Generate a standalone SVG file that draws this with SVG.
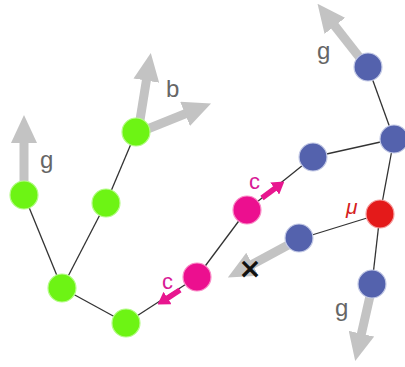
<svg xmlns="http://www.w3.org/2000/svg" width="405" height="367" viewBox="0 0 405 367">
  <defs>
    <marker id="headGray" viewBox="0 0 28 26" markerWidth="28" markerHeight="26" markerUnits="userSpaceOnUse" refX="1" refY="13" orient="auto">
      <path d="M0,0 L28,13 L0,26 z" fill="#c3c3c3"/>
    </marker>
    <marker id="headPink" viewBox="0 0 12 15" markerWidth="12" markerHeight="15" markerUnits="userSpaceOnUse" refX="1" refY="7.5" orient="auto">
      <path d="M0,0 L12,7.5 L0,15 z" fill="#e8168f"/>
    </marker>
    <style>
      .bond { stroke: #333; stroke-width: 1.3; fill: none; }
      .vec { stroke: #c3c3c3; stroke-width: 9; fill: none; marker-end: url(#headGray); }
      .cvec { stroke: #e8168f; stroke-width: 5.5; fill: none; marker-end: url(#headPink); }
      .green { fill: #6df414; stroke: #b6fb8a; stroke-width: 1.2; }
      .pink { fill: #ec0f8f; stroke: #f98fc8; stroke-width: 1.2; }
      .blue { fill: #5462ad; stroke: #c5cbe6; stroke-width: 1.2; }
      .red { fill: #e41a1a; stroke: #f5a0a0; stroke-width: 1.2; }
      .lbl { font-family: "Liberation Sans", Arial, sans-serif; font-size: 24px; fill: #666; }
      .clbl { font-family: "Liberation Sans", Arial, sans-serif; font-size: 22px; fill: #d81a96; }
      .mu { font-family: "Liberation Sans", Arial, sans-serif; font-size: 21px; font-style: italic; fill: #d52020; }
    </style>
  </defs>

  <g id="connectors">
    <line class="bond" x1="24" y1="195" x2="62" y2="288"/>
    <line class="bond" x1="62" y1="288" x2="106" y2="203"/>
    <line class="bond" x1="106" y1="203" x2="136" y2="132"/>
    <line class="bond" x1="62" y1="288" x2="126" y2="323"/>
    <line class="bond" x1="126" y1="323" x2="197" y2="277"/>
    <line class="bond" x1="197" y1="277" x2="247" y2="210"/>
    <line class="bond" x1="247" y1="210" x2="313" y2="157"/>
    <line class="bond" x1="313" y1="157" x2="394" y2="139"/>
    <line class="bond" x1="368" y1="67" x2="394" y2="139"/>
    <line class="bond" x1="394" y1="139" x2="380" y2="214"/>
    <line class="bond" x1="380" y1="214" x2="299" y2="239"/>
    <line class="bond" x1="380" y1="214" x2="372" y2="284"/>
  </g>

  <g id="vectors">
    <line class="vec" x1="24" y1="182" x2="24" y2="142"/>
    <line class="vec" x1="140" y1="120" x2="146.5" y2="79.6"/>
    <line class="vec" x1="145" y1="130" x2="186" y2="113.5"/>
    <line class="vec" x1="360" y1="58" x2="334.2" y2="25.1"/>
    <line class="vec" x1="290" y1="244" x2="251.6" y2="264.7"/>
    <line class="vec" x1="370" y1="296" x2="361.2" y2="334.7"/>
    <line class="cvec" x1="262" y1="198" x2="275.5" y2="188"/>
    <line class="cvec" x1="180" y1="290" x2="166.8" y2="298.6"/>
  </g>

  <g id="node-g1"><circle class="green" cx="24" cy="195" r="14"/></g>
  <g id="node-g2"><circle class="green" cx="106" cy="203" r="14"/></g>
  <g id="node-g3"><circle class="green" cx="136" cy="132" r="14"/></g>
  <g id="node-g4"><circle class="green" cx="62" cy="288" r="14"/></g>
  <g id="node-g5"><circle class="green" cx="126" cy="323" r="14"/></g>
  <g id="node-p1"><circle class="pink" cx="197" cy="277" r="14"/></g>
  <g id="node-p2"><circle class="pink" cx="247" cy="210" r="14"/></g>
  <g id="node-b1"><circle class="blue" cx="368" cy="67" r="14"/></g>
  <g id="node-b2"><circle class="blue" cx="394" cy="139" r="14"/></g>
  <g id="node-b3"><circle class="blue" cx="313" cy="157" r="14"/></g>
  <g id="node-b4"><circle class="blue" cx="299" cy="238" r="14"/></g>
  <g id="node-b5"><circle class="blue" cx="372" cy="284" r="14"/></g>
  <g id="node-mu"><circle class="red" cx="380" cy="214" r="14"/></g>

  <g id="labels">
    <text class="lbl" x="40" y="168">g</text>
    <text class="lbl" x="166" y="97">b</text>
    <text class="lbl" x="317" y="59">g</text>
    <text class="lbl" x="335" y="316">g</text>
    <text class="clbl" x="249" y="189">c</text>
    <text class="clbl" x="162" y="289">c</text>
    <text class="mu" x="346" y="214">μ</text>
    <text x="250" y="278" font-family="DejaVu Sans, sans-serif" font-size="28" font-weight="bold" fill="#111" text-anchor="middle">×</text>
  </g>
</svg>
